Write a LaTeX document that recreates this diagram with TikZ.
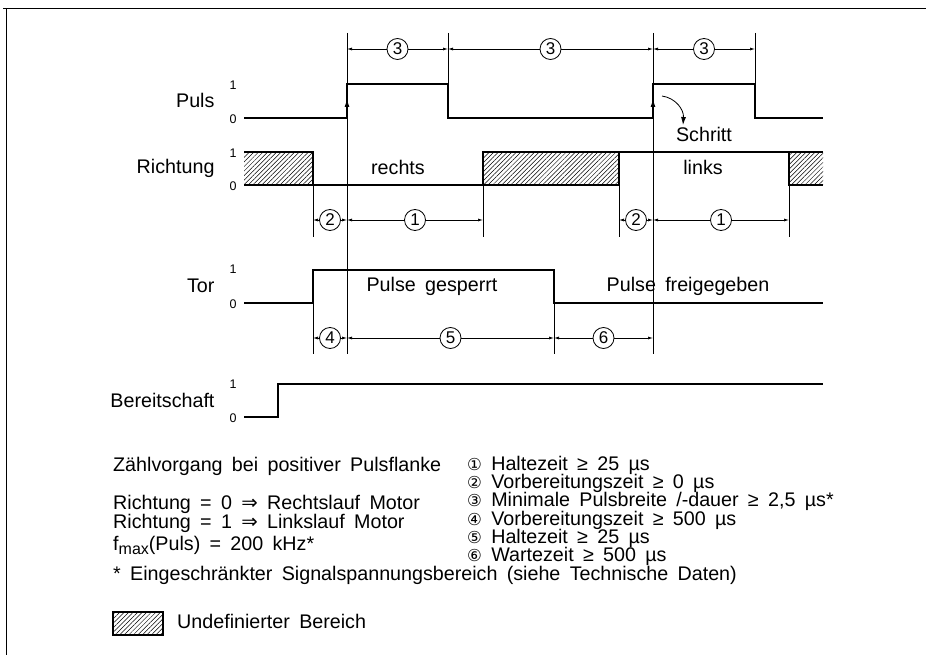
\documentclass[tikz,border=0pt]{standalone}
\usepackage{fontspec}
\setmainfont[WordSpace=1.7]{Liberation Sans}
\newfontfamily\symfont{DejaVu Sans}
\usetikzlibrary{arrows.meta,patterns.meta}

\begin{document}
\begin{tikzpicture}[x=1pt,y=-1pt,font=\fontsize{19.7}{21}\selectfont,
  sig/.style={line width=2.6pt},
  ext/.style={line width=0.8pt},
  dim/.style={line width=0.7pt,{Latex[length=5pt,width=3pt]}-{Latex[length=5pt,width=3pt]}},
  num/.style={draw,circle,fill=white,inner sep=0pt,minimum size=21pt,line width=0.8pt,font=\fontsize{17}{17}\selectfont},
  lvl/.style={font=\fontsize{12.5}{12.5}\selectfont},
  note/.style={anchor=west,inner sep=0pt,text height=12.5pt,text depth=3pt},
  hatch/.style={pattern={Lines[angle=45,distance=3.2pt,line width=0.5pt]}}]
\useasboundingbox (0,0) rectangle (926,655);

% frame
\draw[line width=1pt] (3,9) -- (926,9);
\draw[line width=1pt] (6,9) -- (6,655);

% signal names and levels
\node[anchor=east] (puls) at (218,100) {Puls};
\node[anchor=east] (richt) at (218,168) {Richtung};
\node[anchor=east] (tor) at (218,286) {Tor};
\node[anchor=east] (bereit) at (218,400) {Bereitschaft};
\node[lvl] (p1) at (233,85) {1};   \node[lvl] (p0) at (233,119) {0};
\node[lvl] (r1) at (233,153) {1};  \node[lvl] (r0) at (233,186) {0};
\node[lvl] (t1) at (233,269) {1};  \node[lvl] (t0) at (233,304) {0};
\node[lvl] (b1) at (233,384) {1};  \node[lvl] (b0) at (233,418) {0};

% extension lines
\draw[ext] (347,33) -- (347,354);
\draw[ext] (653,33) -- (653,354);
\draw[ext] (448,33) -- (448,84);
\draw[ext] (755,33) -- (755,84);
\draw[ext] (313,185) -- (313,237);
\draw[ext] (483,185) -- (483,237);
\draw[ext] (619,185) -- (619,237);
\draw[ext] (789,185) -- (789,237);
\draw[ext] (313,303) -- (313,354);
\draw[ext] (554,303) -- (554,354);

% Puls
\draw[sig] (244,118) -- (347,118) -- (347,84) -- (448,84) -- (448,118)
  -- (653,118) -- (653,84) -- (755,84) -- (755,118) -- (823,118);
\draw[line width=1pt,-{Latex[length=8pt,width=5pt]}] (347,116) -- (347,99);
\draw[line width=1pt,-{Latex[length=8pt,width=5pt]}] (653,116) -- (653,99);
\draw[line width=0.8pt,-{Latex[length=8pt,width=5pt]}] (662,96) .. controls (676,98) and (684,110) .. (683,125);
\node (schritt) at (704,134) {Schritt};

% Richtung
\fill[hatch] (244,152) rectangle (313,185);
\fill[hatch] (483,152) rectangle (619,185);
\fill[hatch] (789,152) rectangle (823,185);
\draw[sig] (244,152) -- (313,152) -- (313,185);
\draw[sig] (244,185) -- (483,185) -- (483,152) -- (823,152);
\draw[sig] (483,185) -- (619,185) -- (619,152);
\draw[sig] (789,152) -- (789,185) -- (823,185);
\node (rechts) at (398,167) {rechts};
\node (links) at (703,167) {links};

% Tor
\draw[sig] (244,303) -- (313,303) -- (313,270) -- (554,270) -- (554,303) -- (823,303);
\node (gesperrt) at (432,286) {Pulse gesperrt};
\node (frei) at (688,286) {Pulse freigegeben};

% Bereitschaft
\draw[sig] (244,417) -- (278,417) -- (278,384) -- (823,384);

% time intervals
\draw[dim] (347,49) -- node[num] {3} (448,49);
\draw[dim] (448,49) -- node[num] {3} (653,49);
\draw[dim] (653,49) -- node[num] {3} (755,49);
\draw[dim] (313,220) -- node[num] {2} (347,220);
\draw[dim] (347,220) -- node[num] {1} (483,220);
\draw[dim] (619,220) -- node[num] {2} (653,220);
\draw[dim] (653,220) -- node[num] {1} (789,220);
\draw[dim] (313,338) -- node[num] {4} (347,338);
\draw[dim] (347,338) -- node[num] {5} (554,338);
\draw[dim] (554,338) -- node[num] {6} (653,338);

% notes
\node[note] (zaehl) at (113,467) {Zählvorgang bei positiver Pulsflanke};
\node[note] (lauf0) at (113,505) {Richtung = 0 {\symfont ⇒} Rechtslauf Motor};
\node[note] (lauf1) at (113,524) {Richtung = 1 {\symfont ⇒} Linkslauf Motor};
\node[note] (fmax) at (113,546) {f\raisebox{-4pt}{\fontsize{16}{16}\selectfont max}(Puls) = 200 kHz*};
\node[note] (zeit1) at (467,466) {{\symfont\fontsize{16.5}{17}\selectfont ①} Haltezeit ≥ 25 µs};
\node[note] (zeit2) at (467,484) {{\symfont\fontsize{16.5}{17}\selectfont ②} Vorbereitungszeit ≥ 0 µs};
\node[note] (zeit3) at (467,502) {{\symfont\fontsize{16.5}{17}\selectfont ③} Minimale Pulsbreite /-dauer ≥ 2,5 µs*};
\node[note] (zeit4) at (467,521) {{\symfont\fontsize{16.5}{17}\selectfont ④} Vorbereitungszeit ≥ 500 µs};
\node[note] (zeit5) at (467,539) {{\symfont\fontsize{16.5}{17}\selectfont ⑤} Haltezeit ≥ 25 µs};
\node[note] (zeit6) at (467,557) {{\symfont\fontsize{16.5}{17}\selectfont ⑥} Wartezeit ≥ 500 µs};
\node[note] (stern) at (113,576) {* Eingeschränkter Signalspannungsbereich (siehe Technische Daten)};
\filldraw[hatch,line width=2pt] (113,612) rectangle (163,635);
\node[note] (undef) at (177,624) {Undefinierter Bereich};
\end{tikzpicture}
\end{document}
